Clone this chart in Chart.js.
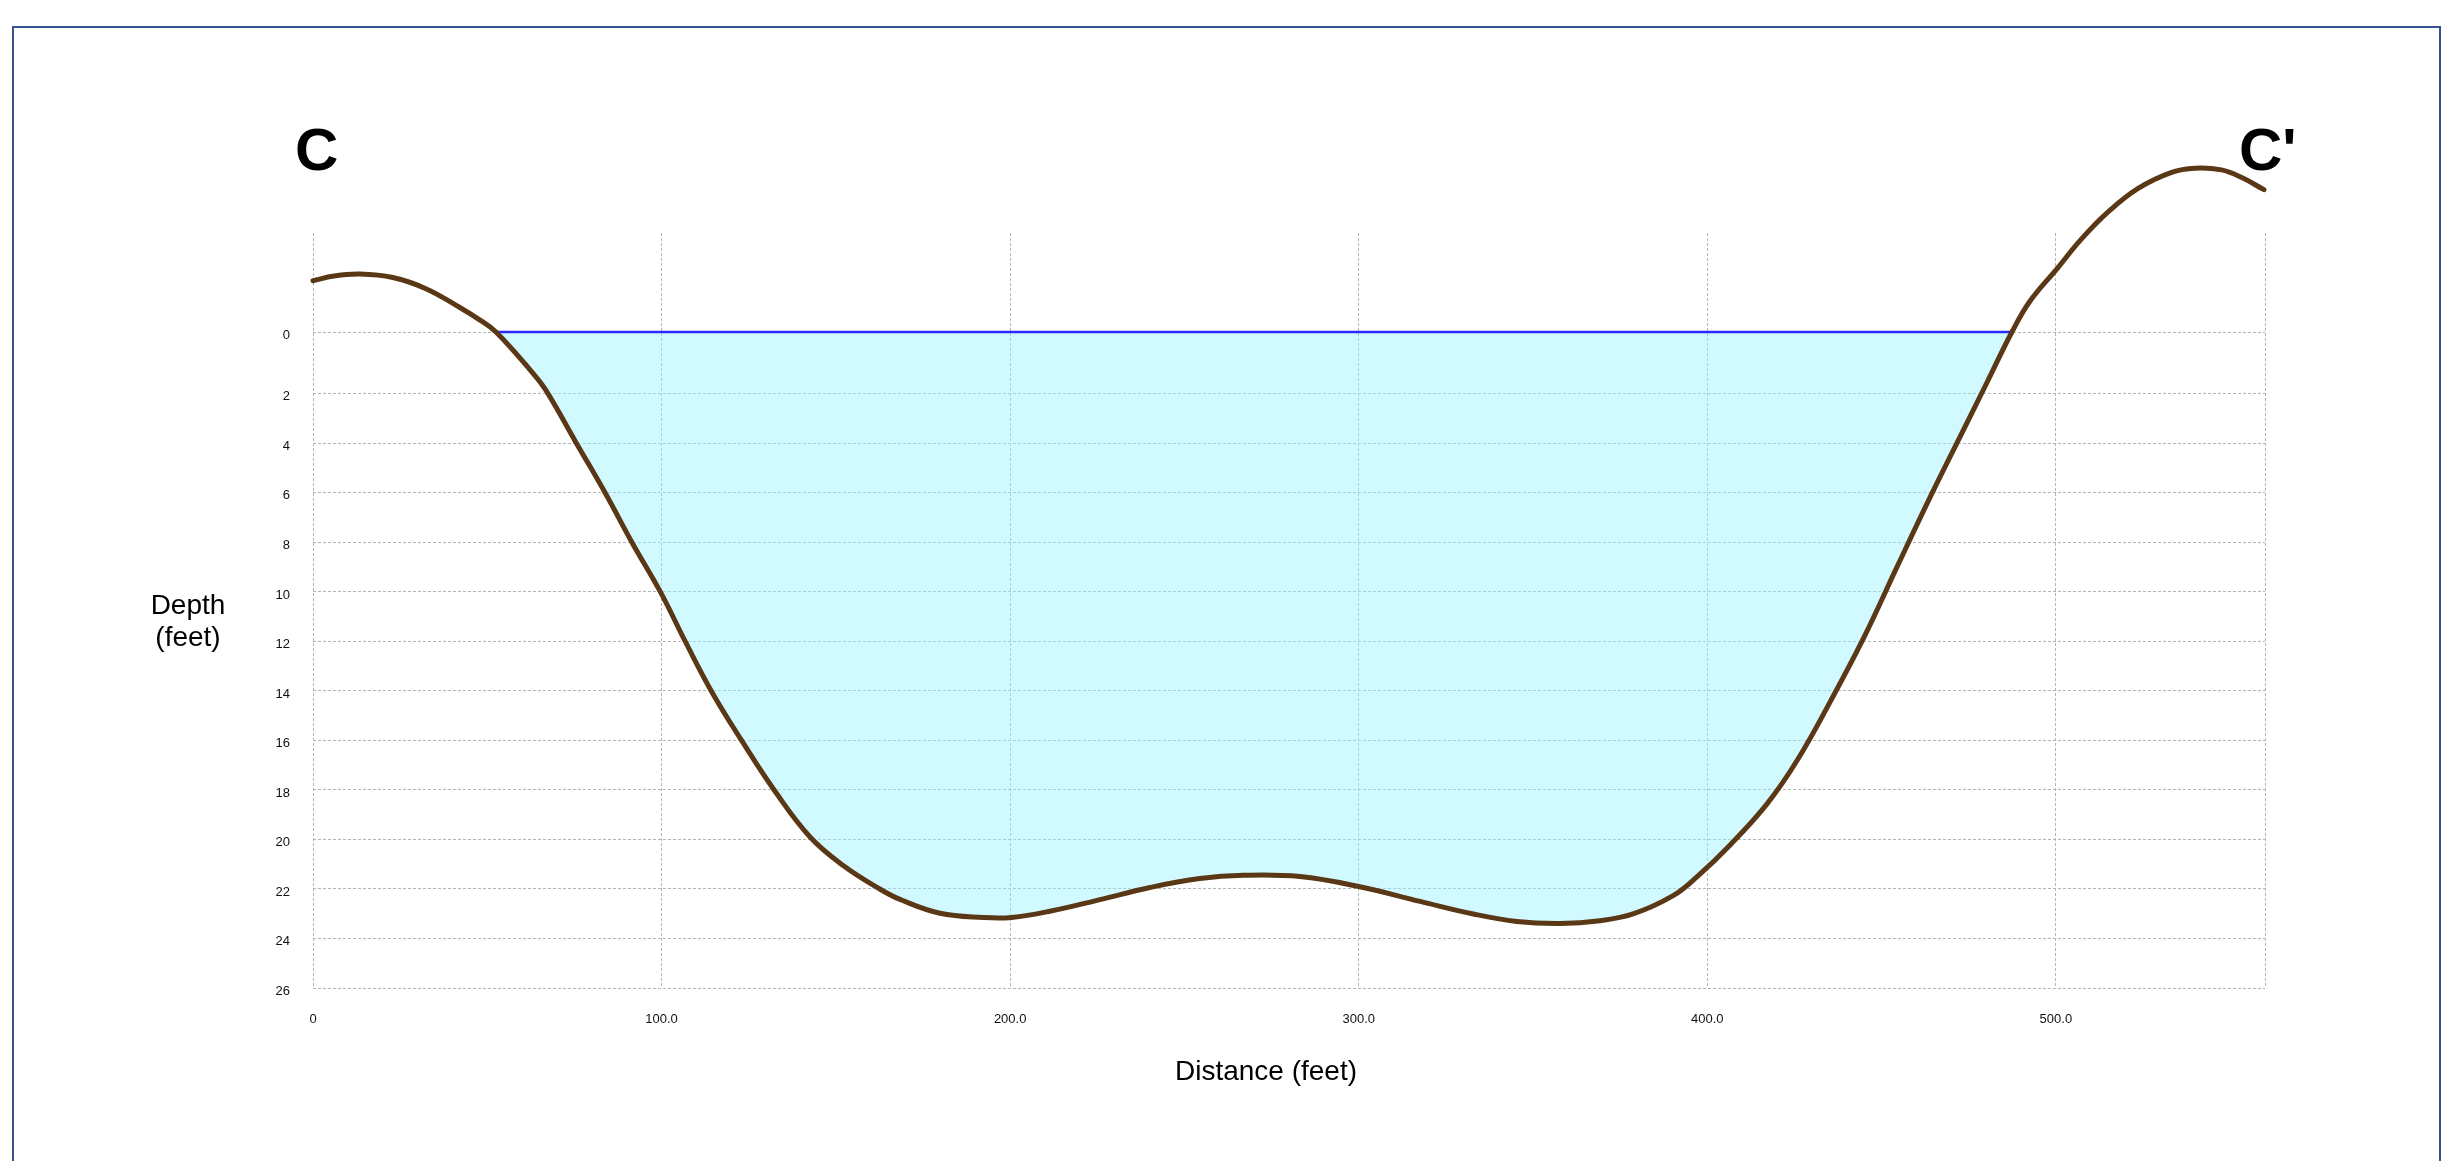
<!DOCTYPE html>
<html>
<head>
<meta charset="utf-8">
<title>Section C - C'</title>
<script src="https://cdn.jsdelivr.net/npm/chart.js@4.4.1/dist/chart.umd.min.js"></script>
<style>
  html,body{margin:0;padding:0;background:#fff;overflow:hidden}
  #wrap{position:relative;width:2443px;height:1161px;font-family:"Liberation Sans",Arial,sans-serif;color:#000}
  #frame{position:absolute;left:12px;top:26px;width:2429px;height:1200px;border:2px solid #34538f;box-sizing:border-box}
  #cv{position:absolute;left:0;top:0}
  .lbl{position:absolute;white-space:nowrap}
  .mark{font-size:60px;line-height:60px;font-weight:bold}
  .axis{font-size:28px;line-height:32px;text-align:center}
</style>
</head>
<body>
<div id="wrap">
  <div id="frame"></div>
  <canvas id="cv" width="2443" height="1161"></canvas>
  <div class="lbl mark" style="left:295px;top:120px">C</div>
  <div class="lbl mark" style="left:2239px;top:120px">C'</div>
  <div class="lbl axis" style="left:128px;top:589px;width:120px">Depth<br>(feet)</div>
  <div class="lbl axis" style="left:1066px;top:1055px;width:400px">Distance (feet)</div>
</div>
<script>
// ground profile (distance in feet, depth in feet, down is positive)
const distanceFt = [0, 6, 13.4, 22.9, 32.4, 42, 47.7, 52.5, 63, 66.8, 75.4, 84, 91.6, 99.7,
  106.9, 114.5, 123.1, 132.3, 142.6, 152.1, 162.6, 168.4, 179.9, 192.3, 200.4, 211.4, 225.8,
  240.1, 254.4, 266.9, 283.1, 300.3, 317.6, 332.9, 345.3, 357.8, 369.2, 378.7, 390.2, 397.1,
  406.7, 417.2, 425.8, 435.4, 444.9, 454.4, 464, 473.5, 480.2, 487.4, 492.6, 500.3, 507.3,
  515, 523.6, 533.2, 539.9, 547.5, 553.2, 559.7];
const depthFt = [-2.57, -2.76, -2.84, -2.70, -2.25, -1.5, -1.0, -0.5, 1.15, 1.85, 3.95, 6.04, 8.02, 10.01,
  12.03, 14.06, 16.03, 18.0, 19.9, 21.05, 22.0, 22.42, 22.98, 23.15, 23.15, 22.9, 22.43,
  21.94, 21.58, 21.45, 21.5, 21.91, 22.5, 23.01, 23.31, 23.39, 23.28, 23.01, 22.27, 21.5,
  20.2, 18.55, 16.8, 14.4, 11.85, 9.0, 6.15, 3.45, 1.55, -0.5, -1.75, -3.05, -4.25,
  -5.35, -6.3, -6.95, -7.12, -7.05, -6.75, -6.25];

const WATER_LEVEL = -0.5;
const waterEdgesFt = [52.5, 487.4];

const xTickValues = [0, 100, 200, 300, 400, 500];
const xTickLabels = ['0', '100.0', '200.0', '300.0', '400.0', '500.0'];
const yTickValues = [-0.5, 2, 4, 6, 8, 10, 12, 14, 16, 18, 20, 22, 24, 26];
const yTickLabels = ['0', '2', '4', '6', '8', '10', '12', '14', '16', '18', '20', '22', '24', '26'];

const X_MAX = 560;
const Y_TOP = -4.5, Y_BOTTOM = 26;

const GRID = '#b4b4b4';
const WATER_FILL = 'rgba(150,245,255,0.45)';

Chart.defaults.font.family = '"Liberation Sans", Arial, sans-serif';

const ground = distanceFt.map((x,i)=>({x, y: depthFt[i]}));
const waterLine = waterEdgesFt.map(x=>({x, y: WATER_LEVEL}));

new Chart(document.getElementById('cv'), {
  type: 'line',
  data: {
    datasets: [
      {
        label: 'Ground',
        data: ground,
        borderColor: '#5a3816',
        borderWidth: 5,
        borderCapStyle: 'round',
        borderJoinStyle: 'round',
        backgroundColor: WATER_FILL,
        fill: { target: { value: WATER_LEVEL }, above: 'rgba(0,0,0,0)', below: WATER_FILL },
        tension: 0.4,
        pointRadius: 0,
        clip: false,
        order: 0
      },
      {
        label: 'Water surface',
        data: waterLine,
        borderColor: '#2b2bff',
        borderWidth: 2.5,
        pointRadius: 0,
        fill: false,
        order: 1
      }
    ]
  },
  options: {
    responsive: false,
    animation: false,
    events: [],
    layout: { padding: { top: 233, right: 178, bottom: 0, left: 0 } },
    plugins: {
      legend: { display: false },
      tooltip: { enabled: false },
      filler: { drawTime: 'beforeDatasetsDraw' }
    },
    scales: {
      x: {
        type: 'linear',
        min: 0,
        max: X_MAX,
        afterFit: s => { s.height = 173; },
        afterBuildTicks: s => { s.ticks = [...xTickValues, X_MAX].map(v=>({value: v})); },
        ticks: {
          padding: 24,
          color: '#111',
          font: { size: 13 },
          maxRotation: 0,
          autoSkip: false,
          callback: (v,i) => xTickLabels[i] ?? ''
        },
        grid: { color: GRID, lineWidth: 1, drawTicks: false },
        border: { display: false, dash: [3,2] }
      },
      y: {
        type: 'linear',
        reverse: true,
        min: Y_TOP,
        max: Y_BOTTOM,
        afterFit: s => { s.width = 313; },
        afterBuildTicks: s => { s.ticks = yTickValues.map(v=>({value: v})); },
        ticks: {
          padding: 23,
          labelOffset: 3,
          color: '#111',
          font: { size: 13 },
          autoSkip: false,
          callback: (v,i) => yTickLabels[i] ?? ''
        },
        grid: { color: GRID, lineWidth: 1, drawTicks: false },
        border: { display: false, dash: [3,2] }
      }
    }
  }
});
</script>
</body>
</html>
